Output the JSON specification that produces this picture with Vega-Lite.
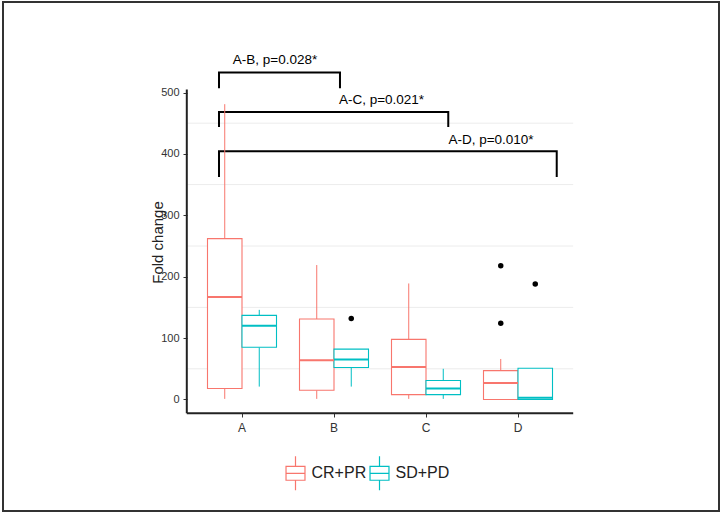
{
  "$schema": "https://vega.github.io/schema/vega-lite/v6.json",
  "width": 716,
  "height": 509,
  "autosize": {"type": "none"},
  "padding": {"left": 3, "top": 2, "right": 4, "bottom": 4},
  "background": "white",
  "config": {
    "view": {"stroke": "#333333", "strokeWidth": 2},
    "font": "Liberation Sans",
    "axis": {"grid": false, "domain": false, "labelFont": "Liberation Sans", "titleFont": "Liberation Sans"},
    "legend": {"labelFont": "Liberation Sans"}
  },
  "datasets": {
    "boxes": [
      {"cat": "A", "grp": "CR+PR", "lower": 1, "q1": 18, "med": 167, "q3": 262, "upper": 481},
      {"cat": "A", "grp": "SD+PD", "lower": 21, "q1": 85, "med": 120, "q3": 137, "upper": 146},
      {"cat": "B", "grp": "CR+PR", "lower": 1, "q1": 15, "med": 64, "q3": 131, "upper": 219},
      {"cat": "B", "grp": "SD+PD", "lower": 21, "q1": 52, "med": 65, "q3": 82, "upper": 82},
      {"cat": "C", "grp": "CR+PR", "lower": 1, "q1": 8, "med": 53, "q3": 98, "upper": 189},
      {"cat": "C", "grp": "SD+PD", "lower": 1, "q1": 8, "med": 18, "q3": 31, "upper": 50},
      {"cat": "D", "grp": "CR+PR", "lower": 0, "q1": 0, "med": 27, "q3": 47, "upper": 66},
      {"cat": "D", "grp": "SD+PD", "lower": 0, "q1": 0, "med": 3, "q3": 51, "upper": 51}
    ],
    "outliers": [
      {"cat": "B", "grp": "SD+PD", "v": 132},
      {"cat": "D", "grp": "CR+PR", "v": 218},
      {"cat": "D", "grp": "CR+PR", "v": 124},
      {"cat": "D", "grp": "SD+PD", "v": 188}
    ],
    "grid": [{"v": 50}, {"v": 150}, {"v": 250}, {"v": 350}, {"v": 450}],
    "brackets": [
      {"b": "AB", "ord": 1, "u": 0.75, "v": 507},
      {"b": "AB", "ord": 2, "u": 0.75, "v": 532.6},
      {"b": "AB", "ord": 3, "u": 2.065, "v": 532.6},
      {"b": "AB", "ord": 4, "u": 2.065, "v": 507},
      {"b": "AC", "ord": 1, "u": 0.75, "v": 444},
      {"b": "AC", "ord": 2, "u": 0.75, "v": 468.4},
      {"b": "AC", "ord": 3, "u": 3.242, "v": 468.4},
      {"b": "AC", "ord": 4, "u": 3.242, "v": 444},
      {"b": "AD", "ord": 1, "u": 0.75, "v": 362.5},
      {"b": "AD", "ord": 2, "u": 0.75, "v": 404.4},
      {"b": "AD", "ord": 3, "u": 4.421, "v": 404.4},
      {"b": "AD", "ord": 4, "u": 4.421, "v": 362.5}
    ],
    "labels": [
      {"t": "A-B, p=0.028*", "u": 1.359, "v": 552.6},
      {"t": "A-C, p=0.021*", "u": 2.516, "v": 487.5},
      {"t": "A-D, p=0.010*", "u": 3.707, "v": 422.3}
    ]
  },
  "resolve": {"scale": {"x": "independent"}},
  "layer": [
    {
      "layer": [
        {
          "data": {"name": "grid"},
          "mark": {"type": "rule", "color": "#ececec", "strokeWidth": 1},
          "encoding": {
            "x": {"datum": 0.4, "type": "quantitative", "scale": {"domain": [-1.5978, 6.1848], "nice": false, "zero": false}, "axis": null},
            "x2": {"datum": 4.6},
            "y": {"field": "v", "type": "quantitative", "title": "Fold change", "scale": {"domain": [-181.6, 647.4], "nice": false, "zero": false},
              "axis": {"orient": "left", "offset": -184, "values": [0, 100, 200, 300, 400, 500], "tickSize": 4, "tickColor": "#333333", "tickWidth": 1,
                "labelFontSize": 11, "labelColor": "#333333", "labelPadding": 4,
                "title": "Fold change", "titleFontSize": 15, "titleFontWeight": "normal", "titleColor": "#222222",
                "titleX": -30, "titleY": 240, "titleAngle": -90, "titleAlign": "center", "titleBaseline": "middle"}}
          }
        },
        {
          "data": {"values": [{}]},
          "mark": {"type": "rule", "color": "#222222", "strokeWidth": 2},
          "encoding": {
            "x": {"datum": 0.4, "type": "quantitative", "axis": null},
            "y": {"datum": -22.3, "type": "quantitative", "title": "Fold change"},
            "y2": {"datum": 505}
          }
        },
        {
          "data": {"values": [{}]},
          "mark": {"type": "rule", "color": "#222222", "strokeWidth": 2},
          "encoding": {
            "x": {"datum": 0.4, "type": "quantitative", "axis": null},
            "x2": {"datum": 4.6},
            "y": {"datum": -22.3, "type": "quantitative", "title": "Fold change"}
          }
        },
        {
          "data": {"name": "brackets"},
          "mark": {"type": "line", "color": "black", "strokeWidth": 2},
          "encoding": {
            "x": {"field": "u", "type": "quantitative", "axis": null},
            "y": {"field": "v", "type": "quantitative", "title": "Fold change"},
            "detail": {"field": "b"},
            "order": {"field": "ord", "type": "quantitative"}
          }
        },
        {
          "data": {"name": "labels"},
          "mark": {"type": "text", "color": "black", "fontSize": 13.5, "align": "center", "baseline": "middle", "font": "Liberation Sans"},
          "encoding": {
            "x": {"field": "u", "type": "quantitative", "axis": null},
            "y": {"field": "v", "type": "quantitative", "title": "Fold change"},
            "text": {"field": "t"}
          }
        }
      ]
    },
    {
      "layer": [
        {
          "data": {"name": "boxes"},
          "mark": {"type": "rule", "strokeWidth": 1},
          "encoding": {
            "x": {"field": "cat", "type": "nominal", "scale": {"domain": ["A", "B", "C", "D"], "paddingInner": 0, "paddingOuter": 0.1, "range": [183.8, 570.2], "round": false},
              "axis": {"orient": "bottom", "offset": -98, "tickSize": 4, "tickColor": "#333333", "labelFontSize": 12, "labelColor": "#333333", "labelPadding": 5, "labelAngle": 0, "title": null}},
            "xOffset": {"field": "grp", "type": "nominal", "scale": {"domain": ["CR+PR", "SD+PD"], "paddingInner": 0, "paddingOuter": 0.3333}},
            "y": {"field": "lower", "type": "quantitative", "title": "Fold change"},
            "y2": {"field": "q1"},
            "stroke": {"field": "grp", "type": "nominal", "scale": {"domain": ["CR+PR", "SD+PD"], "range": ["#F8766D", "#00BFC4"]},
              "legend": {"orient": "none", "legendX": 279.5, "legendY": 458, "direction": "horizontal", "title": null, "padding": 0,
                "symbolType": "M-0.79,-0.58H0.79V0.58H-0.79Z M-0.79,0H0.79 M0,-1.42V-0.58 M0,0.58V1.42",
                "symbolSize": 576, "symbolStrokeWidth": 1.2, "symbolFillColor": "#f2f2f2",
                "labelFontSize": 16, "labelColor": "#222222", "labelOffset": 3, "columnPadding": -3}}
          }
        },
        {
          "data": {"name": "boxes"},
          "mark": {"type": "rule", "strokeWidth": 1},
          "encoding": {
            "x": {"field": "cat", "type": "nominal"},
            "xOffset": {"field": "grp", "type": "nominal"},
            "y": {"field": "q3", "type": "quantitative", "title": "Fold change"},
            "y2": {"field": "upper"},
            "stroke": {"field": "grp", "type": "nominal"}
          }
        },
        {
          "data": {"name": "boxes"},
          "mark": {"type": "bar", "fill": "white", "strokeWidth": 1.1},
          "encoding": {
            "x": {"field": "cat", "type": "nominal"},
            "xOffset": {"field": "grp", "type": "nominal"},
            "y": {"field": "q1", "type": "quantitative", "title": "Fold change"},
            "y2": {"field": "q3"},
            "stroke": {"field": "grp", "type": "nominal"}
          }
        },
        {
          "data": {"name": "boxes"},
          "mark": {"type": "bar", "fill": "transparent", "strokeWidth": 2},
          "encoding": {
            "x": {"field": "cat", "type": "nominal"},
            "xOffset": {"field": "grp", "type": "nominal"},
            "y": {"field": "med", "type": "quantitative", "title": "Fold change"},
            "y2": {"field": "med"},
            "stroke": {"field": "grp", "type": "nominal"}
          }
        },
        {
          "data": {"name": "outliers"},
          "mark": {"type": "point", "filled": true, "color": "black", "size": 30, "opacity": 1},
          "encoding": {
            "x": {"field": "cat", "type": "nominal"},
            "xOffset": {"field": "grp", "type": "nominal"},
            "y": {"field": "v", "type": "quantitative", "title": "Fold change"}
          }
        }
      ]
    }
  ]
}
